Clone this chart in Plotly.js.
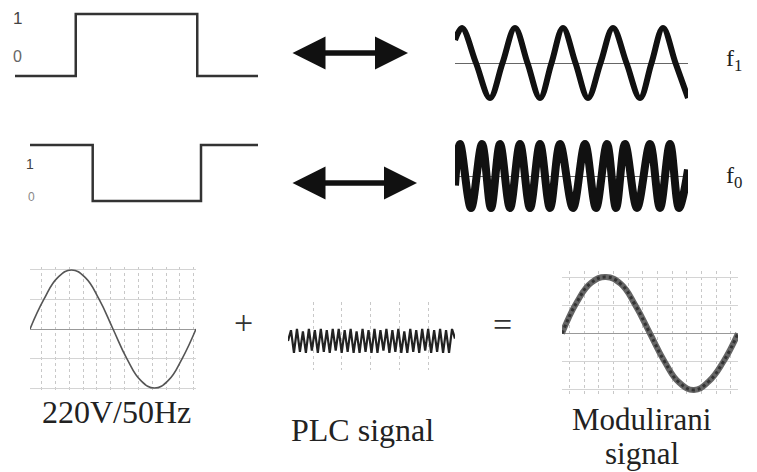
<!DOCTYPE html>
<html>
<head>
<meta charset="utf-8">
<script src="https://cdn.plot.ly/plotly-3.0.1.min.js"></script>
<style>html,body{margin:0;padding:0;background:#fff;}#chart{width:757px;height:472px;}</style>
</head>
<body>
<div id="chart"></div>
<script>
// ---------- DATA ----------
// Bit "1" square wave (time in bit units, logic level)
const sq1T = [0, 2, 2, 6, 6, 8];
const sq1V = [0, 0, 1, 1, 0, 0];
// Bit "0" square wave
const sq2T = [0, 2.2, 2.2, 6, 6, 8];
const sq2V = [1, 1, 0, 0, 1, 1];
// f1 carrier (time in carrier cycles, amplitude)
const f1T = [0, 0.14, 0.42, 0.70, 0.95, 1.20, 1.45, 1.70, 1.93, 2.16, 2.41, 2.66, 2.91, 3.16, 3.43, 3.70, 3.93, 4.16, 4.41, 4.66];
const f1V = [0.66, 1, 0, -1, 0, 1, 0, -1, 0, 1, 0, -1, 0, 1, 0, -1, 0, 1, 0, -1];
// f0 carrier
const f0T = [0, 0.25, 0.8, 1.35, 1.8, 2.25, 2.75, 3.25, 3.75, 4.25, 4.75, 5.25, 5.9, 6.5, 7.05, 7.6, 8.05, 8.5, 9.1, 9.75, 10.25, 10.75, 11.2, 11.65];
const f0V = [-0.3, 1, -1, 1, -1, 1, -1, 1, -1, 1, -1, 1, -1, 1, -1, 1, -1, 1, -1, 1, -1, 1, -1, 0.2];
// 220V / 50Hz mains (phase in degrees, normalised voltage)
const mainsDeg = [0, 30, 60, 90, 120, 150, 180, 210, 240, 270, 300, 330, 360];
const mainsV = [0, 0.5, 0.87, 1, 0.87, 0.5, 0, -0.5, -0.87, -1, -0.87, -0.5, 0];
// PLC signal samples (half-cycle peaks)
const plcV = [0, 0.9, -1, 1, -0.9, 0.8, -1, 1, -0.8, 0.9, -1, 1, -0.9, 0.9, -1, 1, -0.8, 1, -1, 0.9, -0.9, 1, -1, 0.8, -1, 1, -0.9, 0.9, -1, 1, -1, 0.9, -0.8, 1, -1, 0.9, -0.9, 1, -1, 0.8, -1, 1, -0.9, 0.9, -1, 1, -0.8, 1, -1, 0.9, -0.9, 1, -1, 0.9, -1, 1, 0.2];
// Modulated signal envelope (phase in degrees)
const modDeg = [0, 30, 60, 90, 120, 150, 180, 210, 240, 270, 300, 330, 360];
const modV = [0, 0.55, 0.9, 1, 0.88, 0.5, 0, -0.5, -0.87, -1, -0.85, -0.5, 0];
// Labels
const labelMains = '220V/50Hz';
const labelPlc = 'PLC signal';
const labelMod1 = 'Modulirani';
const labelMod2 = 'signal';
const labelF1 = 'f<sub>1</sub>';
const labelF0 = 'f<sub>0</sub>';

// ---------- LAYOUT HELPERS ----------
const W = 757, H = 472;
const px = x => x / W;
const py = y => 1 - y / H;
const dom = (a, b) => [px(a), px(b)];
const vdom = (top, bottom) => [py(bottom), py(top)];

function ax(extra) {
  return Object.assign({
    showgrid: false, zeroline: false, showline: false, showticklabels: false,
    ticks: '', fixedrange: true
  }, extra);
}

const plcX = plcV.map((v, i) => i * 0.5);

const traces = [
  {x: sq1T, y: sq1V, xaxis: 'x', yaxis: 'y', mode: 'lines', line: {color: '#333', width: 2.5}},
  {x: sq2T, y: sq2V, xaxis: 'x2', yaxis: 'y2', mode: 'lines', line: {color: '#333', width: 2.5}},
  {x: f1T, y: f1V, xaxis: 'x3', yaxis: 'y3', mode: 'lines', line: {color: '#111', width: 6, shape: 'spline', smoothing: 1}},
  {x: f0T, y: f0V, xaxis: 'x4', yaxis: 'y4', mode: 'lines', line: {color: '#111', width: 8, shape: 'spline', smoothing: 1}},
  {x: mainsDeg, y: mainsV, xaxis: 'x5', yaxis: 'y5', mode: 'lines', line: {color: '#555', width: 1.6, shape: 'spline', smoothing: 1.3}},
  {x: plcX, y: plcV, xaxis: 'x6', yaxis: 'y6', mode: 'lines', line: {color: '#222', width: 2.2}},
  {x: modDeg, y: modV, xaxis: 'x7', yaxis: 'y7', mode: 'lines', line: {color: '#666', width: 6, shape: 'spline', smoothing: 1.3}},
  {x: modDeg, y: modV, xaxis: 'x7', yaxis: 'y7', mode: 'lines', line: {color: '#333', width: 3, dash: 'dot', shape: 'spline', smoothing: 1.3}}
];

const gridY = {showgrid: true, gridcolor: '#d4d4d4', gridwidth: 1, dtick: 0.5, tick0: 0, zeroline: true, zerolinecolor: '#999', zerolinewidth: 1};
const gridX = {showgrid: true, gridcolor: '#c8c8c8', gridwidth: 1, griddash: 'dot'};

function label(text, x, y, size, color, family) {
  return {text: text, xref: 'paper', yref: 'paper', x: px(x), y: py(y), xanchor: 'center', yanchor: 'middle',
    showarrow: false, font: {family: family || 'Liberation Serif, Times New Roman, serif', size: size, color: color || '#222'}};
}
function arrow(xL, xR, y) {
  return {text: '', xref: 'paper', yref: 'paper', x: px(xR), y: py(y), ax: xL - xR, ay: 0, showarrow: true,
    arrowside: 'end+start', arrowhead: 2, startarrowhead: 2, arrowwidth: 5.5, arrowsize: 1.2, startarrowsize: 1.2,
    arrowcolor: '#111', standoff: 0, startstandoff: 0};
}
const sans = 'Liberation Sans, Arial, sans-serif';

const layout = {
  width: W, height: H,
  margin: {l: 0, r: 0, t: 0, b: 0},
  paper_bgcolor: '#fff', plot_bgcolor: 'rgba(0,0,0,0)',
  showlegend: false,
  xaxis: ax({domain: dom(15, 258), range: [0, 8], anchor: 'y'}),
  yaxis: ax({domain: vdom(10.9, 79.1), range: [-0.05, 1.05], anchor: 'x'}),
  xaxis2: ax({domain: dom(30, 258), range: [0, 8], anchor: 'y2'}),
  yaxis2: ax({domain: vdom(142.2, 203.8), range: [-0.05, 1.05], anchor: 'x2'}),
  xaxis3: ax({domain: dom(455, 688), range: [0, 4.66], anchor: 'y3'}),
  yaxis3: ax({domain: vdom(22.75, 103.25), range: [-1.15, 1.15], anchor: 'x3', zeroline: true, zerolinecolor: '#666', zerolinewidth: 1}),
  xaxis4: ax({domain: dom(455, 688), range: [0, 11.65], anchor: 'y4'}),
  yaxis4: ax({domain: vdom(137.6, 214.4), range: [-1.2, 1.2], anchor: 'x4', zeroline: true, zerolinecolor: '#666', zerolinewidth: 1}),
  xaxis5: ax(Object.assign({domain: dom(30, 196), range: [0, 360], anchor: 'y5', tick0: 25, dtick: 30}, gridX)),
  yaxis5: ax(Object.assign({domain: vdom(267, 391), range: [-1.05, 1.05], anchor: 'x5'}, gridY)),
  xaxis6: ax(Object.assign({domain: dom(288, 455), range: [0, (plcV.length - 1) * 0.5], anchor: 'y6', tick0: 4.2, dtick: 4.85}, gridX)),
  yaxis6: ax({domain: vdom(302, 370), range: [-2.42, 3.25], anchor: 'x6'}),
  xaxis7: ax(Object.assign({domain: dom(562, 738), range: [0, 360], anchor: 'y7', tick0: 15, dtick: 30}, gridX)),
  yaxis7: ax(Object.assign({domain: vdom(271.4, 395.6), range: [-1.1, 1.1], anchor: 'x7'}, gridY)),
  annotations: [
    label('1', 17, 18, 17, '#444', sans),
    label('0', 17, 56, 16, '#666', sans),
    label('1', 30, 164, 14, '#444', sans),
    label('0', 31, 197, 12, '#888', sans),
    arrow(291, 408, 53),
    arrow(291, 417, 183),
    label(labelF1, 734, 60, 24, '#222'),
    label(labelF0, 734, 177, 24, '#222'),
    label('+', 243, 322, 34, '#333'),
    label('=', 502, 324, 34, '#333'),
    label(labelMains, 116, 412, 32, '#222'),
    label(labelPlc, 362, 430, 32, '#222'),
    label(labelMod1, 642, 419, 31, '#222'),
    label(labelMod2, 642, 453, 31, '#222')
  ]
};

Plotly.newPlot('chart', traces, layout, {staticPlot: true, displayModeBar: false});
</script>
</body>
</html>
